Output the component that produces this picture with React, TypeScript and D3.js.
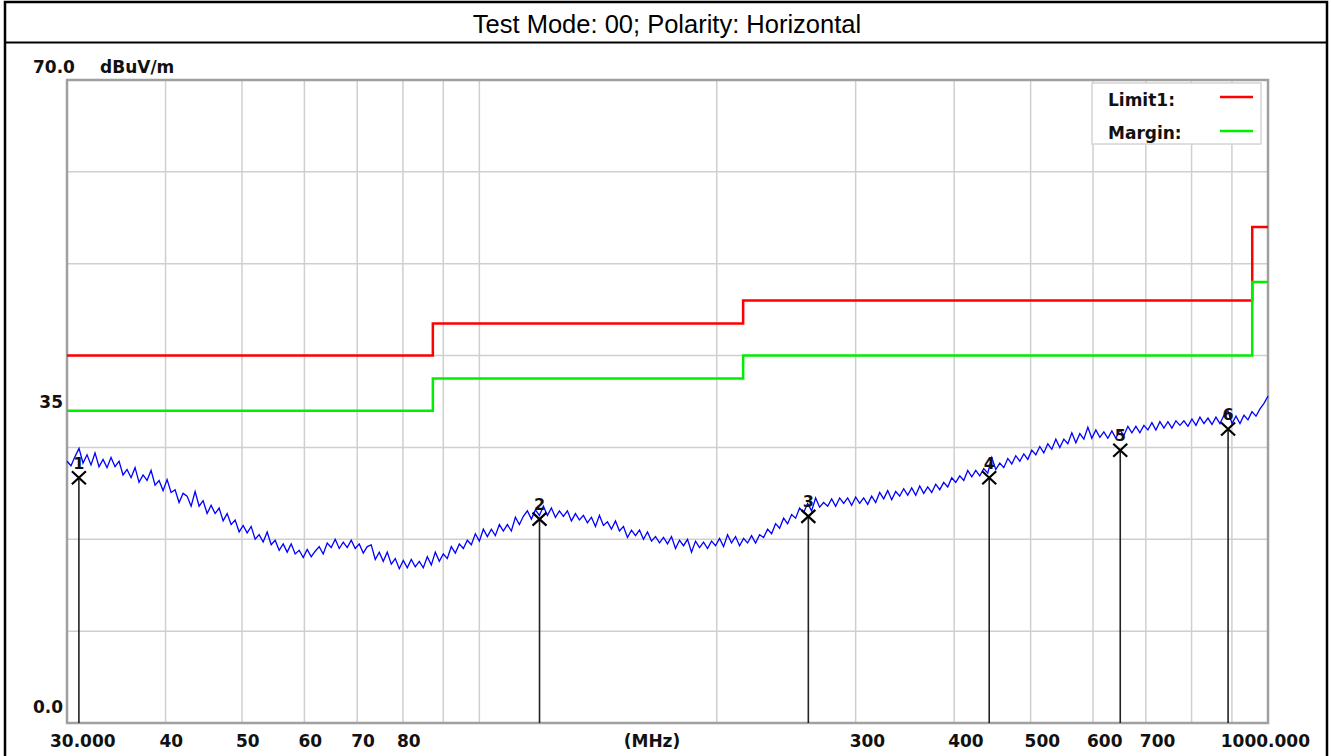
import React from "react";
import * as d3 from "d3";

// scan: Test Mode 00, horizontal polarity
const titleText = "Test Mode: 00; Polarity: Horizontal";
const yUnit = "dBuV/m";

const gridFreqs = [40, 50, 60, 70, 80, 90, 100, 200, 300, 400, 500, 600, 700, 800, 900];
const gridLevels = [10, 20, 30, 40, 50, 60];
const xTickFreqs = [40, 50, 60, 70, 80, 300, 400, 500, 600, 700];
const xTickLabels = ["40", "50", "60", "70", "80", "300", "400", "500", "600", "700"];

const limitFreqs = [30, 87.3, 216, 955, 1000];
const limitLevels = [40, 43.5, 46, 54, 54];
const marginLevels = [34, 37.5, 40, 48, 48];

const markerIds = ["1", "2", "3", "4", "5", "6"];
const markerFreqs = [31.06, 119.2, 261.3, 443.1, 649.6, 890];
const markerLevels = [26.7, 22.2, 22.5, 26.7, 29.7, 32.0];

// peak trace (30 MHz .. 1000 MHz, log spaced sweep)
const traceLevels = [
  28.5, 28.0, 29.0, 29.9, 28.3, 29.2, 28.1, 29.4, 27.9, 28.7,
  27.8, 28.9, 27.9, 28.5, 27.0, 27.6, 26.7, 27.8, 26.2, 27.0,
  26.4, 27.5, 25.9, 26.4, 25.3, 26.5, 25.1, 25.4, 24.0, 25.0,
  24.7, 23.6, 25.2, 23.6, 24.2, 22.8, 23.7, 22.8, 23.4, 22.0,
  22.8, 21.6, 22.1, 20.8, 21.5, 20.7, 21.4, 20.0, 20.5, 19.7,
  20.8, 19.4, 19.9, 18.8, 19.5, 18.6, 19.5, 18.4, 18.8, 18.0,
  18.9, 18.1, 18.7, 19.2, 18.4, 19.6, 19.1, 20.0, 19.0, 19.7,
  19.1, 19.9, 19.0, 19.5, 18.5, 19.2, 19.4, 17.8, 18.6, 17.6,
  18.6, 17.3, 17.9, 16.8, 17.7, 16.9, 17.8, 17.0, 17.6, 16.9,
  18.1, 17.2, 18.6, 17.6, 18.4, 17.9, 19.2, 18.5, 19.5, 19.0,
  19.9, 19.4, 20.6, 19.8, 21.1, 20.3, 21.1, 20.4, 21.6, 20.9,
  21.6, 20.9, 22.4, 21.6, 22.5, 23.1, 22.2, 23.2, 22.6, 23.6,
  22.6, 23.4, 22.4, 23.1, 22.5, 23.1, 22.0, 22.8, 22.1, 22.6,
  21.8, 22.4, 21.4, 22.6, 21.5, 21.9, 21.1, 22.0, 20.9, 21.4,
  20.2, 21.0, 20.4, 21.0, 20.0, 20.8, 19.8, 20.3, 19.6, 20.2,
  19.5, 20.3, 19.0, 19.9, 19.3, 20.0, 18.6, 19.8, 19.1, 19.7,
  19.0, 19.8, 19.3, 20.1, 19.2, 20.5, 19.6, 20.3, 19.3, 20.1,
  19.6, 20.4, 19.6, 20.5, 20.2, 21.1, 20.6, 21.7, 21.2, 22.3,
  21.7, 22.7, 22.3, 23.4, 22.9, 23.9, 23.1, 24.5, 23.5, 24.0,
  23.6, 24.4, 23.6, 24.5, 23.9, 24.5, 23.7, 24.6, 23.9, 24.5,
  23.8, 24.7, 24.0, 25.1, 24.4, 25.3, 24.3, 25.2, 24.7, 25.5,
  24.8, 25.6, 24.8, 25.8, 25.0, 25.7, 25.1, 26.0, 25.4, 26.2,
  25.7, 26.7, 26.2, 26.9, 26.4, 27.5, 26.8, 27.5, 26.9, 27.7,
  27.2, 28.9, 27.6, 28.3, 27.8, 28.8, 28.2, 29.1, 28.5, 29.3,
  28.7, 29.7, 29.2, 30.1, 29.4, 30.4, 29.8, 30.9, 30.0, 30.9,
  30.4, 31.6, 30.5, 31.5, 30.9, 32.2, 31.0, 31.9, 31.1, 31.7,
  31.0, 31.8, 31.0, 31.9, 31.3, 32.3, 31.6, 32.3, 31.6, 32.4,
  31.9, 32.7, 31.9, 32.8, 32.1, 32.8, 32.1, 32.9, 32.4, 32.9,
  32.3, 33.1, 32.4, 33.3, 32.6, 33.2, 32.5, 33.3, 32.6, 33.5,
  34.0, 32.6, 33.4, 32.6, 33.5, 33.0, 33.9, 33.4, 34.2, 34.8, 35.6,
];

const W = 1332;
const H = 756;
const plot = { left: 67, right: 1268, top: 80, bottom: 723 };
const labelFont = "'DejaVu Sans', Verdana, sans-serif";

export default function App() {
  const x = d3.scaleLog().domain([30, 1000]).range([plot.left, plot.right]);
  const y = d3.scaleLinear().domain([0, 70]).range([plot.bottom, plot.top]);

  const n = traceLevels.length;
  const traceData = traceLevels.map((v, i) => [30 * Math.pow(1000 / 30, i / (n - 1)), v] as [number, number]);

  const line = d3.line<[number, number]>().x(d => x(d[0])).y(d => y(d[1]));
  const step = d3.line<[number, number]>().x(d => x(d[0])).y(d => y(d[1])).curve(d3.curveStepAfter);

  const limitPts = limitFreqs.map((f, i) => [f, limitLevels[i]] as [number, number]);
  const marginPts = limitFreqs.map((f, i) => [f, marginLevels[i]] as [number, number]);

  const bold = { fontFamily: labelFont, fontWeight: 700, fontSize: 17, fill: "#111" } as const;

  return (
    <svg width={W} height={H} style={{ position: "absolute", left: 0, top: 0, background: "#fff" }}>
      {/* outer frame + title cell */}
      <rect x={5} y={2} width={1322} height={H + 10} fill="#fff" stroke="#000" strokeWidth={2.5} />
      <line x1={5} x2={1327} y1={42.5} y2={42.5} stroke="#000" strokeWidth={2} />
      <text x={667} y={33} textAnchor="middle" style={{ fontFamily: "'Liberation Sans', Arial, sans-serif", fontSize: 25.5 }}>
        {titleText}
      </text>

      {/* grid */}
      {gridFreqs.map(f => (
        <line key={"gx" + f} x1={x(f)} x2={x(f)} y1={plot.top} y2={plot.bottom} stroke="#cfcfcf" strokeWidth={1.5} />
      ))}
      {gridLevels.map(v => (
        <line key={"gy" + v} x1={plot.left} x2={plot.right} y1={y(v)} y2={y(v)} stroke="#cfcfcf" strokeWidth={1.5} />
      ))}
      <rect x={plot.left} y={plot.top} width={plot.right - plot.left} height={plot.bottom - plot.top}
        fill="none" stroke="#a0a0a0" strokeWidth={2.5} />

      {/* limit & margin */}
      <path d={step(limitPts) || ""} fill="none" stroke="#ff0000" strokeWidth={2.5} />
      <path d={step(marginPts) || ""} fill="none" stroke="#00ee00" strokeWidth={2.5} />

      {/* trace */}
      <path d={line(traceData) || ""} fill="none" stroke="#0000ff" strokeWidth={1.3} />

      {/* markers */}
      {markerFreqs.map((f, i) => {
        const mx = x(f);
        const my = y(markerLevels[i]);
        return (
          <g key={"m" + i}>
            <line x1={mx} x2={mx} y1={my} y2={plot.bottom} stroke="#222" strokeWidth={1.6} />
            <path d={`M${mx - 7},${my - 6.5}L${mx + 7},${my + 6.5}M${mx - 7},${my + 6.5}L${mx + 7},${my - 6.5}`}
              stroke="#000" strokeWidth={2.2} />
            <text x={mx} y={my - 9} textAnchor="middle" style={{ ...bold, fontSize: 16 }}>{markerIds[i]}</text>
          </g>
        );
      })}

      {/* legend */}
      <rect x={1092} y={83} width={169} height={61} fill="#fff" stroke="#d4d4d4" strokeWidth={1.5} />
      <text x={1108} y={106} style={bold}>Limit1:</text>
      <text x={1108} y={139} style={bold}>Margin:</text>
      <line x1={1220} x2={1253} y1={97} y2={97} stroke="#ff0000" strokeWidth={2.5} />
      <line x1={1220} x2={1253} y1={131} y2={131} stroke="#00ee00" strokeWidth={2.5} />

      {/* y labels */}
      <text x={33} y={73} style={bold}>70.0</text>
      <text x={100} y={73} style={bold}>{yUnit}</text>
      <text x={63} y={y(35) + 6} textAnchor="end" style={bold}>35</text>
      <text x={63} y={713} textAnchor="end" style={bold}>0.0</text>

      {/* x labels */}
      <text x={x(30) - 17} y={747} style={bold}>30.000</text>
      {xTickFreqs.map((f, i) => (
        <text key={"xt" + f} x={x(f) - 6} y={747} style={bold}>{xTickLabels[i]}</text>
      ))}
      <text x={652} y={747} textAnchor="middle" style={bold}>(MHz)</text>
      <text x={x(1000) + 42} y={747} textAnchor="end" style={bold}>1000.000</text>
    </svg>
  );
}
